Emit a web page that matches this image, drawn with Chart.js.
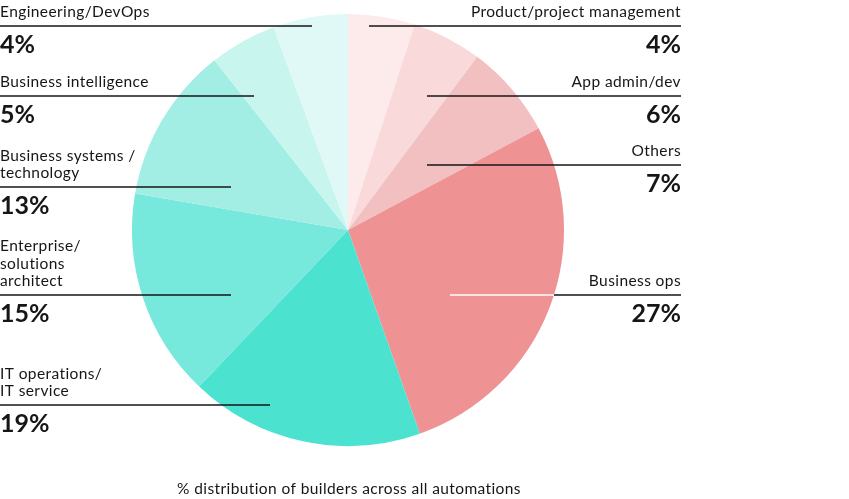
<!DOCTYPE html>
<html>
<head>
<meta charset="utf-8">
<script src="https://cdn.jsdelivr.net/npm/chart.js"></script>
<style>
  html, body { margin: 0; padding: 0; background: #fff; }
  #wrap { width: 849px; height: 499px; position: relative; }
</style>
</head>
<body>
<div id="wrap"><canvas id="builderPie"></canvas></div>
<script>
// clockwise from 12 o'clock
const roles = ['Product/project management', 'App admin/dev', 'Others', 'Business ops',
  'IT operations/IT service', 'Enterprise/solutions architect', 'Business systems / technology',
  'Business intelligence', 'Engineering/DevOps'];
// slice sizes (%)
const shares = [5, 5.2, 7, 27.4, 17.5, 15.6, 11.7, 5, 5.6];
// the printed percentages
const pctLabels = ['4%', '6%', '7%', '27%', '19%', '15%', '13%', '5%', '4%'];
const sliceColors = ['#fdeaeb', '#f9d9da', '#f2c0c1', '#ef9294',
  '#4be2d0', '#76e8dc', '#a2eee4', '#c9f5ef', '#e0f9f6'];
const chartTitle = '% distribution of builders across all automations';

// callout layout: text lines, side, y of rule, inner end of rule
const callouts = [
  { lines: ['Product/project management'], side: 'right', y: 26, x: 369 },
  { lines: ['App admin/dev'], side: 'right', y: 96, x: 427 },
  { lines: ['Others'], side: 'right', y: 165, x: 427 },
  { lines: ['Business ops'], side: 'right', y: 295, x: 450, inside: true },
  { lines: ['IT operations/', 'IT service'], side: 'left', y: 405, x: 270 },
  { lines: ['Enterprise/', 'solutions', 'architect'], side: 'left', y: 295, x: 231 },
  { lines: ['Business systems /', 'technology'], side: 'left', y: 187, x: 231 },
  { lines: ['Business intelligence'], side: 'left', y: 96, x: 254 },
  { lines: ['Engineering/DevOps'], side: 'left', y: 26, x: 312 }
];

const FONT = 'Lato, "Noto Sans", sans-serif';
const INK = '#161616';
const LEFT_X = 0, RIGHT_X = 681;

const calloutPlugin = {
  id: 'callouts',
  afterDatasetsDraw(chart) {
    const ctx = chart.ctx;
    const arc = chart.getDatasetMeta(0).data[0];
    const cx = arc.x, cy = arc.y, r = arc.outerRadius;
    ctx.save();
    callouts.forEach((c, i) => {
      const x0 = c.side === 'left' ? LEFT_X : c.x;
      const x1 = c.side === 'left' ? c.x : RIGHT_X;
      ctx.lineWidth = 1.3;
      if (c.inside) {
        // part of the rule that sits on the dark slice is white
        const edge = cx + Math.sqrt(r * r - (c.y - cy) * (c.y - cy));
        ctx.strokeStyle = '#ffffff';
        ctx.beginPath(); ctx.moveTo(x0, c.y); ctx.lineTo(edge, c.y); ctx.stroke();
        ctx.strokeStyle = INK;
        ctx.beginPath(); ctx.moveTo(edge, c.y); ctx.lineTo(x1, c.y); ctx.stroke();
      } else {
        ctx.strokeStyle = INK;
        ctx.beginPath(); ctx.moveTo(x0, c.y); ctx.lineTo(x1, c.y); ctx.stroke();
      }

      ctx.fillStyle = INK;
      ctx.textAlign = c.side === 'left' ? 'left' : 'right';
      ctx.textBaseline = 'alphabetic';
      const tx = c.side === 'left' ? LEFT_X : RIGHT_X;
      ctx.font = '15.5px ' + FONT;
      ctx.letterSpacing = '0.4px';
      const n = c.lines.length;
      c.lines.forEach((t, k) => {
        ctx.fillText(t, tx, c.y - 9 - (n - 1 - k) * 17.5);
      });
      ctx.font = 'bold 25px ' + FONT;
      ctx.letterSpacing = '0px';
      ctx.fillText(pctLabels[i], tx, c.y + 27);
    });

    ctx.font = '15.5px ' + FONT;
    ctx.letterSpacing = '0.4px';
    ctx.textAlign = 'center';
    ctx.fillText(chartTitle, 349, 494);
    ctx.restore();
  }
};

new Chart(document.getElementById('builderPie'), {
  type: 'pie',
  data: {
    labels: roles,
    datasets: [{
      data: shares,
      backgroundColor: sliceColors,
      borderWidth: 0
    }]
  },
  options: {
    responsive: true,
    maintainAspectRatio: false,
    animation: false,
    layout: { padding: { left: 132, right: 285, top: 14, bottom: 53 } },
    plugins: {
      legend: { display: false },
      tooltip: { enabled: false }
    }
  },
  plugins: [calloutPlugin]
});
</script>
</body>
</html>
